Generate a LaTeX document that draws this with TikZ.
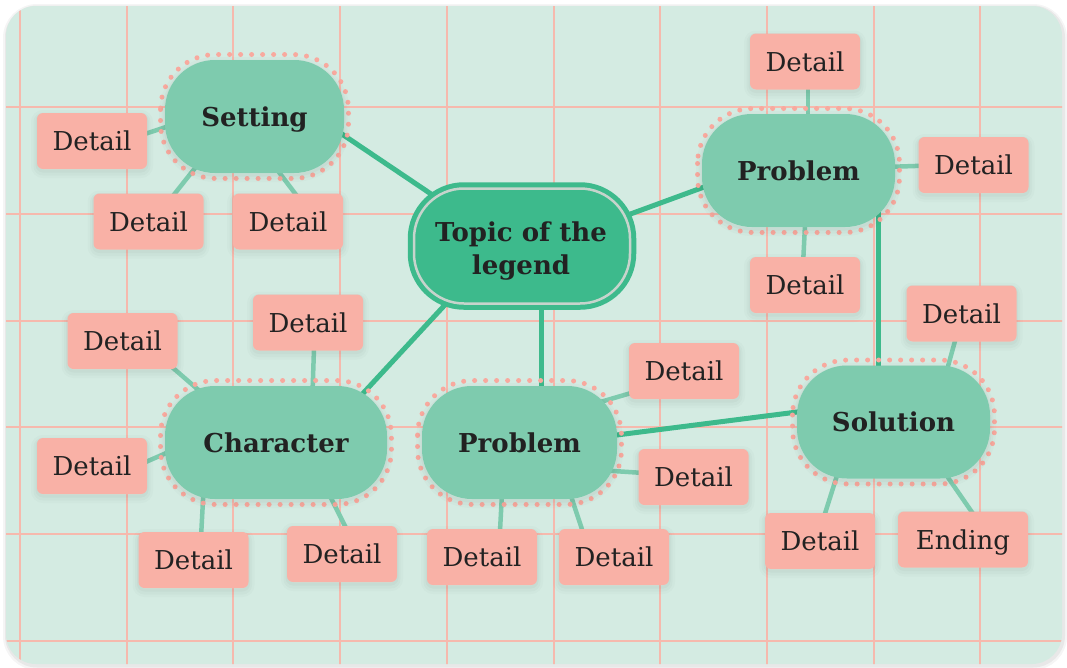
\documentclass[tikz,border=0pt]{standalone}
\usepackage{fontspec}
\setmainfont{DejaVu Serif}
\usetikzlibrary{calc}
\definecolor{cardc}{HTML}{D4EBE2}
\definecolor{gridc}{HTML}{F6B9AD}
\definecolor{subc}{HTML}{7ECBAE}
\definecolor{topc}{HTML}{3DBA8C}
\definecolor{ringgray}{HTML}{C6D4CC}
\definecolor{detc}{HTML}{F9B1A6}
\definecolor{dotc}{HTML}{F8A99E}
\definecolor{ink}{HTML}{222222}
\pgfdeclarelayer{gridl}
\pgfdeclarelayer{bg}
\pgfsetlayers{gridl,bg,main}
\begin{document}
\begin{tikzpicture}[x=1pt,y=-1pt,
  softshadow/.style={
    preaction={draw=black,draw opacity=0.015,line width=12pt,transform canvas={yshift=-3pt}},
    preaction={draw=black,draw opacity=0.02,line width=7pt,transform canvas={yshift=-3pt}},
    preaction={draw=black,draw opacity=0.025,line width=3pt,transform canvas={yshift=-2pt}}},
  sub/.style={rectangle,rounded corners=50pt,fill=subc,minimum height=113pt,inner sep=0pt,outer sep=0pt,
    font=\bfseries\fontsize{26}{30}\selectfont,text=ink,text height=19pt,text depth=0pt,softshadow},
  det/.style={rectangle,rounded corners=6pt,fill=detc,minimum width=110pt,minimum height=56pt,inner sep=0pt,outer sep=0pt,
    font=\fontsize{26}{30}\selectfont,text=ink,text height=19pt,text depth=0pt,softshadow},
  topicbox/.style={rectangle,rounded corners=50pt,fill=topc,draw=topc,line width=5pt,double=ringgray,double distance=2.5pt,
    minimum width=216pt,minimum height=115pt,inner sep=0pt,outer sep=0pt},
  topictext/.style={font=\bfseries\fontsize{26}{30}\selectfont,text=ink,anchor=base,inner sep=0pt},
  mainline/.style={draw=topc,line width=5pt},
  dline/.style={draw=subc,line width=4.5pt},
  ring/.style={draw=dotc,line width=5pt,line cap=round,dash pattern=on 0pt off 11pt,rounded corners=55pt},
  gridline/.style={draw=gridc,line width=2pt}]
\useasboundingbox (0,0) rectangle (1067,667);
\begin{pgfonlayer}{gridl}
  \fill[white] (0,0) rectangle (1067,667);
  \draw[black,draw opacity=0.04,line width=8pt,rounded corners=30pt] (7,8) rectangle (1063,666);
  \draw[black,draw opacity=0.05,line width=4pt,rounded corners=30pt] (7,7.5) rectangle (1063,665.5);
  \fill[cardc,rounded corners=30pt] (6,6) rectangle (1062,664);
  \begin{scope}
    \clip[rounded corners=30pt] (6,6) rectangle (1062,664);
    \foreach \i in {0,...,9} \draw[gridline] ({20+\i*106.7},0) -- ({20+\i*106.7},667);
    \foreach \j in {0,...,5} \draw[gridline] (0,{107.3+\j*106.7}) -- (1067,{107.3+\j*106.7});
  \end{scope}
\end{pgfonlayer}

% main nodes
\node[topicbox] (topic) at (522,246) {};
\node[topictext] (tt1) at (521,241.7) {Topic of the};
\node[topictext] (tt2) at (521,274) {legend};
\node[sub,minimum width=179pt] (set) at (254.5,116.5) {Setting};
\node[sub,minimum width=193pt] (pr1) at (798.5,170.5) {Problem};
\node[sub,minimum width=222pt] (chr) at (276,442.5) {Character};
\node[sub,minimum width=195pt] (pr2) at (519.5,442.5) {Problem};
\node[sub,minimum width=193pt] (sol) at (893.5,422) {Solution};

% details
\node[det] (s1) at (92,141) {Detail};
\node[det] (s2) at (148.5,221.5) {Detail};
\node[det] (s3) at (288,221.5) {Detail};
\node[det] (p1a) at (805,61.5) {Detail};
\node[det] (p1b) at (973.5,165) {Detail};
\node[det] (p1c) at (805,285) {Detail};
\node[det] (o1) at (961.5,313.5) {Detail};
\node[det] (o2) at (820,541) {Detail};
\node[det,minimum width=130pt] (o3) at (963,539.5) {Ending};
\node[det] (c1) at (122.5,341) {Detail};
\node[det] (c2) at (308,322.5) {Detail};
\node[det] (c3) at (92,466) {Detail};
\node[det] (c4) at (193.5,560) {Detail};
\node[det] (c5) at (342,554) {Detail};
\node[det] (q1) at (684,371) {Detail};
\node[det] (q2) at (693.5,477) {Detail};
\node[det] (q3) at (482,557) {Detail};
\node[det] (q4) at (614,557) {Detail};

\begin{pgfonlayer}{bg}
  % main connectors
  \draw[mainline] ([shift={(-82,-46)}]topic.center) -- ([shift={(75.5,9.5)}]set.center);
  \draw[mainline] ([shift={(-67,48)}]topic.center) -- ([shift={(79,-40.5)}]chr.center);
  \draw[mainline] ([shift={(19,54)}]topic.center) -- ([shift={(21.5,-47.5)}]pr2.center);
  \draw[mainline] ([shift={(103,-30)}]topic.center) -- ([shift={(-83.5,12.5)}]pr1.center);
  \draw[mainline] ([shift={(85.5,-6)}]pr2.center) -- ([shift={(-88.5,-11)}]sol.center);
  \draw[mainline] ([shift={(79.5,34.5)}]pr1.center) -- ([shift={(-15.5,-47)}]sol.center);
  % detail connectors
  \draw[dline] ([shift={(48,-5.4)}]s1.center) -- ([shift={(-79.5,7.5)}]set.center);
  \draw[dline] ([shift={(21.5,-21.9)}]s2.center) -- ([shift={(-51.5,41.5)}]set.center);
  \draw[dline] ([shift={(10,-24.2)}]s3.center) -- ([shift={(17.5,46.5)}]set.center);
  \draw[dline] ([shift={(3,18.5)}]p1a.center) -- ([shift={(9.5,-45.5)}]pr1.center);
  \draw[dline] ([shift={(-43.5,0.5)}]p1b.center) -- ([shift={(86.5,-3.5)}]pr1.center);
  \draw[dline] ([shift={(-2,-20)}]p1c.center) -- ([shift={(7,44.5)}]pr1.center);
  \draw[dline] ([shift={(42.5,20)}]c1.center) -- ([shift={(-66,-42.5)}]chr.center);
  \draw[dline] ([shift={(6.3,17.5)}]c2.center) -- ([shift={(36.3,-44.5)}]chr.center);
  \draw[dline] ([shift={(43,0.7)}]c3.center) -- ([shift={(-96,4.5)}]chr.center);
  \draw[dline] ([shift={(7.1,-15)}]c4.center) -- ([shift={(-72.2,42.5)}]chr.center);
  \draw[dline] ([shift={(6,-22)}]c5.center) -- ([shift={(51,47.5)}]chr.center);
  \draw[dline] ([shift={(-44,19.4)}]q1.center) -- ([shift={(70.5,-37.5)}]pr2.center);
  \draw[dline] ([shift={(-43.5,-3.6)}]q2.center) -- ([shift={(78.5,27.5)}]pr2.center);
  \draw[dline] ([shift={(17.5,-17)}]q3.center) -- ([shift={(-17.2,45.5)}]pr2.center);
  \draw[dline] ([shift={(-28.5,-17)}]q4.center) -- ([shift={(48.5,44.5)}]pr2.center);
  \draw[dline] ([shift={(-4,18.5)}]o1.center) -- ([shift={(51.5,-45)}]sol.center);
  \draw[dline] ([shift={(2,-18)}]o2.center) -- ([shift={(-53.5,44)}]sol.center);
  \draw[dline] ([shift={(13,-21.5)}]o3.center) -- ([shift={(46.5,44)}]sol.center);
  % dotted rings
  \foreach \n in {set,pr1,chr,pr2,sol}
    \draw[ring] ([shift={(-4.5,-5.5)}]\n.north west) rectangle ([shift={(4.5,5.5)}]\n.south east);
\end{pgfonlayer}
\end{tikzpicture}
\end{document}
